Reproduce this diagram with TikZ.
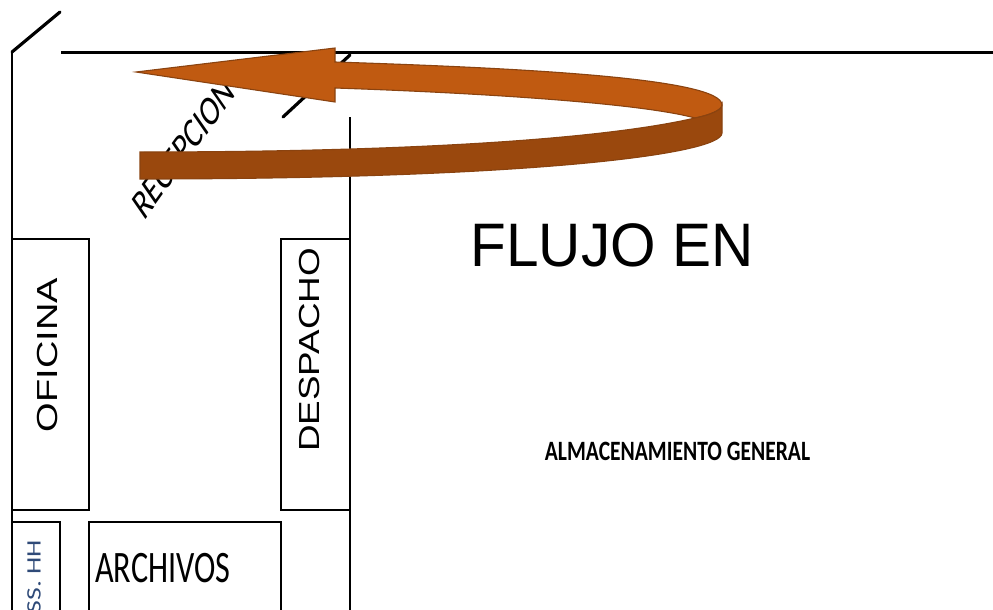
\documentclass[tikz,border=0pt]{standalone}
\usepackage{fontspec}
\setmainfont{Liberation Sans}
\newfontfamily\carl{Carlito}
\begin{document}
\begin{tikzpicture}[x=1pt,y=-1pt,
  wall/.style={draw=black,line width=2.9pt},
  door/.style={draw=black,line width=3.2pt,line cap=round},
  lab/.style={inner sep=0pt,text=black},
  light/.style={fill=arrowlight,draw=arrowedge,line width=1.1pt,line join=miter},
  dark/.style={fill=arrowdark,draw=arrowedge,line width=1.1pt,line join=miter}]
\definecolor{arrowlight}{HTML}{C05A11}
\definecolor{arrowdark}{HTML}{9A480D}
\definecolor{arrowedge}{HTML}{8A4310}
\definecolor{sstext}{HTML}{2F4A78}
\useasboundingbox (0,0) rectangle (993,610);
\clip (0,0) rectangle (993,610);
\coordinate (a1) at (60,12);
\coordinate (a2) at (12,52);
\coordinate (a3) at (12,625);
\coordinate (t1) at (61,52.5);
\coordinate (t2) at (1000,52.5);
\coordinate (d1) at (283,117);
\coordinate (d2) at (350,55);
\coordinate (r1) at (350,117);
\coordinate (r2) at (350,625);
\draw[wall] (a2) -- (a3);
\draw[door] (a2) -- (a1);
\draw[wall,line width=3.2pt] (t1) -- (t2);
\draw[door] (d1) -- (d2);
\draw[wall] (r1) -- (r2);
\draw[wall] (12,239) rectangle (89,510);
\draw[wall] (281,239) rectangle (350,510);
\draw[wall] (12,522) rectangle (60,625);
\draw[wall] (89,522) rectangle (281,625);
\begin{scope}[cm={0.60,0.83,-0.65,0.94,(144,222)}]
\node[lab,transform shape,anchor=base west,font=\carl\fontsize{33}{33}\selectfont] (rec) at (0,0) {RECEPCION};
\end{scope}
\node[lab,rotate=90,font=\fontsize{29}{29}\selectfont] (ofi) at (48,355) {\scalebox{1.31}[1]{OFICINA}};
\node[lab,rotate=90,font=\fontsize{29}{29}\selectfont] (des) at (310,350) {\scalebox{1.27}[1]{DESPACHO}};
\node[lab,rotate=90,anchor=east,text=sstext,font=\carl\fontsize{20.5}{20.5}\selectfont] (ss) at (34,540) {\scalebox{1.35}[1]{SS. HH}};
\node[lab,anchor=west,font=\carl\fontsize{45}{45}\selectfont] (arc) at (95,568) {\scalebox{0.715}[1]{ARCHIVOS}};
\node[lab,font=\fontsize{58.5}{58.5}\selectfont] (flu) at (612,245) {\scalebox{1}[1.05]{FLUJO EN}};
\node[lab,font=\carl\bfseries\fontsize{28}{28}\selectfont] (alm) at (677.5,451) {\scalebox{0.77}[1]{ALMACENAMIENTO GENERAL}};
% curved arrow
\path[light] (136,72) -- (335,48) -- (335,62)
  .. controls (520,68) and (722,78) .. (722,105)
  .. controls (722,110) and (710,115) .. (695,118)
  .. controls (640,103) and (480,93) .. (335,88)
  -- (335,102) -- cycle;
\path[dark] (140,152)
  .. controls (400,152) and (600,140) .. (695,118)
  .. controls (710,115) and (722,110) .. (722,105)
  -- (722,133)
  .. controls (722,155) and (520,179) .. (140,179) -- cycle;
\end{tikzpicture}
\end{document}
